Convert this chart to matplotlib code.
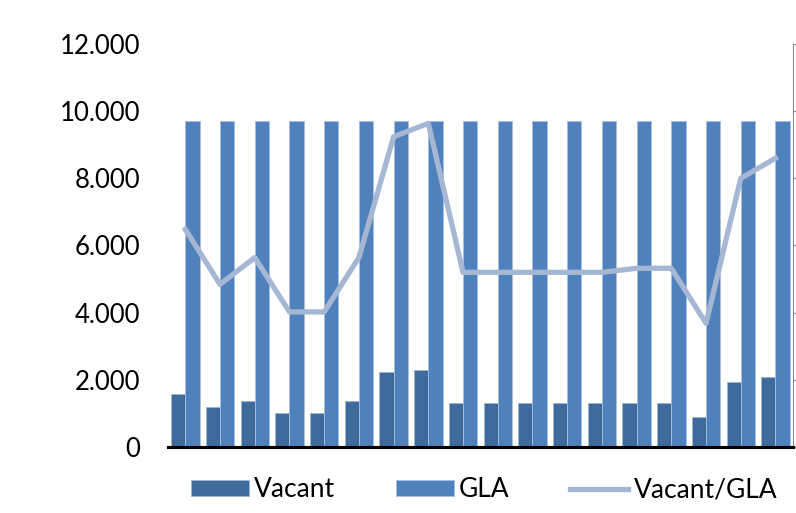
import matplotlib
matplotlib.use("Agg")
import matplotlib.pyplot as plt
import matplotlib.ticker as mticker
import numpy as np

plt.rcParams['font.family'] = ['Lato', 'DejaVu Sans']

# values
vacant = [1570, 1200, 1380, 1020, 1020, 1380, 2240, 2300, 1300,
          1300, 1300, 1300, 1300, 1300, 1300, 885, 1935, 2095]
gla = [9700] * 18
ratio = [16.2, 12.1, 14.1, 10.05, 10.05, 14.1, 23.1, 24.1, 13.0,
         13.0, 13.0, 13.0, 13.0, 13.3, 13.3, 9.2, 20.0, 21.5]

x = np.arange(len(vacant))
w = 0.41

fig = plt.figure(figsize=(7.96, 5.13), dpi=100)
ax = fig.add_axes([0.211, 0.129, 0.785, 0.785])

ax.bar(x - w/2, vacant, w, color='#3F6A9C', edgecolor='#9FB6D6', linewidth=0.6, label='Vacant')
ax.bar(x + w/2, gla, w, color='#4F81BD', edgecolor='#A9C0E0', linewidth=0.6, label='GLA')

ax2 = ax.twinx()
ln, = ax2.plot(x, ratio, color='#A6B7D4', linewidth=3.8, label='Vacant/GLA')

ax.set_xlim(-0.5, len(vacant) - 0.5)
ax.set_ylim(0, 12000)
ax.set_yticks(range(0, 12001, 2000))
ax.yaxis.set_major_formatter(mticker.FuncFormatter(lambda v, p: f"{int(v):,}".replace(",", ".")))
ax.tick_params(axis='y', length=0, pad=20, labelsize=18.5)
ax.set_xticks([])

ax2.set_ylim(0, 30)
ax2.set_yticks(range(0, 31, 5))
ax2.tick_params(axis='y', length=3, color='#888888', labelright=False)

for a in (ax, ax2):
    a.spines['top'].set_visible(False)
    a.spines['left'].set_visible(False)
ax.spines['right'].set_visible(False)
ax2.spines['right'].set_color('#888888')
ax2.spines['bottom'].set_linewidth(2.2)
ax2.spines['bottom'].set_color('black')
ax.spines['bottom'].set_linewidth(2.2)

h1, l1 = ax.get_legend_handles_labels()
fig.legend(h1 + [ln], l1 + ['Vacant/GLA'], loc='center', bbox_to_anchor=(0.608, 0.045),
           ncol=3, frameon=False, fontsize=19, handlelength=2.2, handleheight=0.6,
           columnspacing=2.3, handletextpad=0.2, borderpad=0.2)

fig.savefig('out.png', dpi=100)
